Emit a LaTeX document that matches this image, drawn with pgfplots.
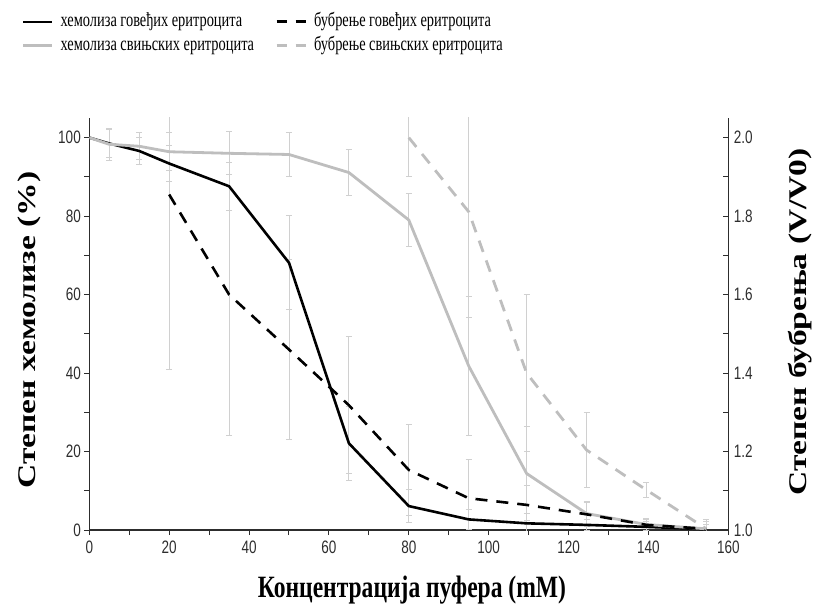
\documentclass[border=0pt]{standalone}
\usepackage{fontspec}
\setmainfont{Liberation Serif}
\newfontfamily\legfont{Liberation Serif}[FakeStretch=0.72]
\newfontfamily\labfont{Liberation Serif}[FakeStretch=0.76]
\newfontfamily\ticksf{Liberation Sans}[FakeStretch=0.75]
\usepackage{graphicx}
\usepackage{pgfplots}
\pgfplotsset{compat=1.18}

\definecolor{lightline}{RGB}{190,190,190}
\definecolor{errgray}{RGB}{208,208,208}
\definecolor{axisgray}{RGB}{45,45,45}

% hemolysis (%), left axis
\pgfplotstableread{
x    bov   bove  por   pore
0    100   0     100   0
5    98.5  3.5   98.3  4.0
12.5 96.6  3.5   97.8  3.4
20   93.4  4.5   96.4  4.8
35   87.6  6.1   96.0  5.5
50   68.1  12.0  95.7  5.5
65   22.1  9.5   91.1  5.8
80   6.1   4.3   79.0  6.8
95   2.7   2.6   41.8  17.6
109.5 1.7  2.5   14.4  12.0
124.5 1.3  1.5   4.2   3.2
139.5 0.8  1.5   1.4   1.6
154.5 0.2  2.4   0.3   2.4
}\hemolysis

% swelling (V/V0), right axis
\pgfplotstableread{
x     sw    swe
20    1.855 0.445
35    1.600 0.36
50    1.460 0.23
65    1.318 0.175
80    1.153 0.115
95    1.081 0.10
109.5 1.064 0.05
124.5 1.040 0.03
139.5 1.013 0.015
154.5 1.003 0.01
}\swellbov
\pgfplotstableread{
x     sw    swe
80    2.000 0.10
95    1.811 0.27
109.5 1.400 0.20
124.5 1.204 0.095
139.5 1.102 0.02
154.5 1.003 0.02
}\swellpor

% vertical labels: full-width font, squeezed across the line
\newcommand{\ylab}[1]{\scalebox{1}[0.76]{\rmfamily\bfseries\fontsize{33.5}{38}\selectfont #1}}

\pgfplotsset{
  base/.style={
    scale only axis, width=639pt, height=412pt,
    at={(0pt,0pt)}, anchor=south west,
    xmin=0, xmax=160,
    axis line style={-, axisgray, line width=1.3pt},
    major tick length=5pt, minor tick length=5pt,
    every tick/.style={axisgray, line width=1pt},
    tick label style={font=\ticksf\fontsize{18}{21}\selectfont, text=axisgray},
    /pgf/number format/assume math mode=true,
  },
  errs/.style={draw=none, mark=none, forget plot,
    error bars/.cd, y dir=both, y explicit,
    error bar style={errgray, line width=0.9pt},
    error mark options={errgray, rotate=90, mark size=3pt, line width=0.9pt}},
}

\begin{document}
\begin{tikzpicture}
\path[use as bounding box] (-89.3pt,-78pt) rectangle (731.7pt,530pt);

% swelling error bars (behind everything)
\begin{axis}[base, ymin=1.0, ymax=2.05, hide axis]
\addplot[errs] table[x=x, y=sw, y error=swe] {\swellbov};
\addplot[errs] table[x=x, y=sw, y error=swe] {\swellpor};
\end{axis}

% hemolysis, left axis
\begin{axis}[base,
  ymin=0, ymax=105,
  axis x line*=bottom, axis y line*=left,
  tick align=outside,
  xtick={0,20,...,160}, minor x tick num=1,
  ytick={0,20,...,100}, minor y tick num=1,
  xticklabel style={yshift=-2pt},
  ylabel={\ylab{Степен хемолизе (\%)}},
  ylabel style={at={(axis description cs:-0.093,0.485)}, anchor=center},
  xlabel={Концентрација пуфера (mM)},
  xlabel style={at={(axis description cs:0.505,-0.146)}, anchor=center,
    font=\labfont\bfseries\fontsize{31}{36}\selectfont},
  legend columns=2,
  legend style={at={(axis description cs:-0.106,1.257)}, anchor=north west,
    draw=none, fill=none, inner sep=0pt,
    font=\legfont\fontsize{20}{23}\selectfont,
    nodes={inner sep=1pt, text height=13pt, text depth=4pt,
      font=\legfont\fontsize{20}{23}\selectfont},
    row sep=5pt,
    /tikz/every odd column/.append style={column sep=6pt},
    /tikz/every even column/.append style={column sep=20pt}},
  legend cell align=left,
  legend image code/.code={\draw[#1] (0pt,0pt) -- (29pt,0pt);},
]
\addplot[errs] table[x=x, y=bov, y error=bove] {\hemolysis};
\addplot[errs] table[x=x, y=por, y error=pore] {\hemolysis};
\addplot[black, line width=2.6pt, no markers] table[x=x, y=bov] {\hemolysis};
\addlegendentry{хемолиза говеђих еритроцита}
\addlegendimage{black, line width=3pt, dash pattern=on 10pt off 9pt}
\addlegendentry{бубрење говеђих еритроцита}
\addplot[lightline, line width=2.8pt, no markers] table[x=x, y=por] {\hemolysis};
\addlegendentry{хемолиза свињских еритроцита}
\addlegendimage{lightline, line width=3pt, dash pattern=on 10pt off 9pt}
\addlegendentry{бубрење свињских еритроцита}
\end{axis}

% swelling, right axis
\begin{axis}[base,
  ymin=1.0, ymax=2.05,
  axis x line=none, axis y line*=right,
  tick align=inside,
  ytick={1.0,1.2,...,2.0}, minor y tick num=1,
  yticklabel style={xshift=2pt, /pgf/number format/.cd, fixed, fixed zerofill, precision=1},
  ylabel={\ylab{Степен бубрења (V/V0)}},
  ylabel style={at={(axis description cs:1.112,0.505)}, anchor=center},
]
\addplot[black, line width=2.6pt, dash pattern=on 12pt off 9pt, no markers]
  table[x=x, y=sw] {\swellbov};
\addplot[lightline, line width=2.8pt, dash pattern=on 12pt off 9pt, no markers]
  table[x=x, y=sw] {\swellpor};
\end{axis}
\end{tikzpicture}
\end{document}
